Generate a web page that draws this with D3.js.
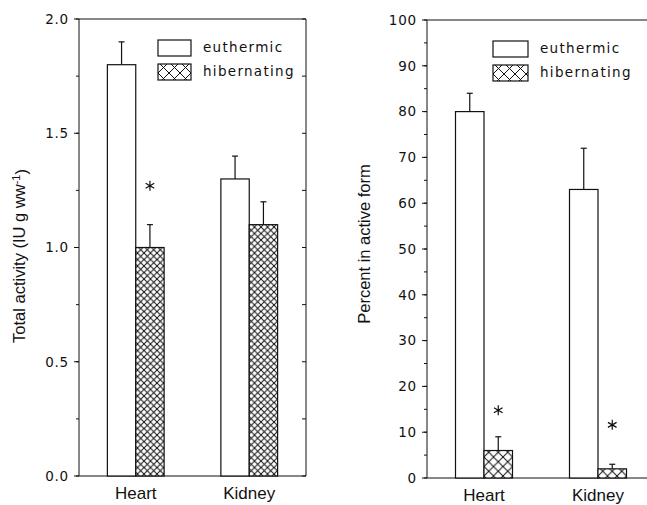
<!DOCTYPE html>
<html>
<head>
<meta charset="utf-8">
<script src="https://cdn.jsdelivr.net/npm/d3@7"></script>
<style>
  body { margin: 0; background: #fff; }
  svg { display: block; }
  .tick-label { font-family: "DejaVu Sans", sans-serif; font-size: 13.5px; letter-spacing: 0.8px; fill: #111; }
  .legend-text { font-family: "DejaVu Sans", sans-serif; font-size: 13.5px; letter-spacing: 1.3px; fill: #111; }
  .axis-title { font-family: "Liberation Sans", Arial, sans-serif; font-size: 16.5px; fill: #111; }
  .cat-label { font-family: "Liberation Sans", Arial, sans-serif; font-size: 17px; fill: #111; }
</style>
</head>
<body>
<div id="chart"></div>
<script>
// data
const categories = ["Heart", "Kidney"];
const series = ["euthermic", "hibernating"];

// left panel: total activity
const totalEuthermic = [1.8, 1.3];
const totalEuthermicErr = [0.1, 0.1];
const totalHibernating = [1.0, 1.1];
const totalHibernatingErr = [0.1, 0.1];
const totalStars = [1.27, null];     // asterisk above hibernating bar
const totalTicks = [0, 0.5, 1.0, 1.5, 2.0];

// right panel: percent in active form
const pctEuthermic = [80, 63];
const pctEuthermicErr = [4, 9];
const pctHibernating = [6, 2];
const pctHibernatingErr = [3, 1];
const pctStars = [14.8, 11.6];
const pctTicks = [0, 10, 20, 30, 40, 50, 60, 70, 80, 90, 100];

const svg = d3.select("#chart").append("svg")
  .attr("width", 647)
  .attr("height", 505);

const defs = svg.append("defs");
function hatch(id, size) {
  const p = defs.append("pattern")
    .attr("id", id)
    .attr("patternUnits", "userSpaceOnUse")
    .attr("width", size)
    .attr("height", size);
  p.append("rect").attr("width", size).attr("height", size).attr("fill", "#fff");
  p.append("path")
    .attr("d", `M0,0L${size},${size}M${size},0L0,${size}`)
    .attr("stroke", "#111")
    .attr("stroke-width", 1);
}
hatch("hatchL", 6.5);
hatch("hatchR", 9.5);
hatch("hatchLeg", 11);

function drawPanel(opt) {
  const g = svg.append("g").attr("transform", `translate(${opt.left},${opt.top})`);
  const w = opt.width, h = opt.height;

  const y = d3.scaleLinear().domain(opt.domain).range([h, 0]);
  const x0 = d3.scaleBand().domain(categories).range([0, w]).paddingInner(0.5).paddingOuter(0.25);
  const x1 = d3.scaleBand().domain(series).range([0, x0.bandwidth()]);

  // frame
  g.append("line").attr("x1", 0).attr("x2", 0).attr("y1", 0).attr("y2", h).attr("stroke", "#111");
  g.append("line").attr("x1", 0).attr("x2", w).attr("y1", 0).attr("y2", 0).attr("stroke", "#111");
  g.append("line").attr("x1", 0).attr("x2", w).attr("y1", h).attr("y2", h).attr("stroke", "#111");
  g.append("line").attr("x1", w).attr("x2", w).attr("y1", 0).attr("y2", h).attr("stroke", "#111");

  // y ticks, major + minor
  const minor = d3.range(opt.domain[0], opt.domain[1] + 1e-9, opt.minorStep);
  g.selectAll(".minorL").data(minor).enter().append("line")
    .attr("x1", -3).attr("x2", 0)
    .attr("y1", d => y(d)).attr("y2", d => y(d))
    .attr("stroke", "#111");
  g.selectAll(".minorR").data(minor).enter().append("line")
    .attr("x1", w - 4).attr("x2", w)
    .attr("y1", d => y(d)).attr("y2", d => y(d))
    .attr("stroke", "#111");
  g.selectAll(".major").data(opt.ticks).enter().append("line")
    .attr("x1", -5).attr("x2", 0)
    .attr("y1", d => y(d)).attr("y2", d => y(d))
    .attr("stroke", "#111");
  g.selectAll(".tick-label").data(opt.ticks).enter().append("text")
    .attr("class", "tick-label")
    .attr("x", -10)
    .attr("y", d => y(d))
    .attr("dy", "0.36em")
    .attr("text-anchor", "end")
    .text(opt.format);

  // bars
  const rows = [];
  categories.forEach((c, i) => {
    rows.push({cat: c, s: "euthermic", v: opt.eu[i], e: opt.euErr[i]});
    rows.push({cat: c, s: "hibernating", v: opt.hib[i], e: opt.hibErr[i]});
  });
  const bx = d => x0(d.cat) + x1(d.s);

  g.selectAll(".err").data(rows).enter().append("line")
    .attr("x1", d => bx(d) + x1.bandwidth() / 2)
    .attr("x2", d => bx(d) + x1.bandwidth() / 2)
    .attr("y1", d => y(d.v))
    .attr("y2", d => y(d.v + d.e))
    .attr("stroke", "#111").attr("stroke-width", 1.2);
  g.selectAll(".cap").data(rows).enter().append("line")
    .attr("x1", d => bx(d) + x1.bandwidth() / 2 - 3)
    .attr("x2", d => bx(d) + x1.bandwidth() / 2 + 3)
    .attr("y1", d => y(d.v + d.e))
    .attr("y2", d => y(d.v + d.e))
    .attr("stroke", "#111").attr("stroke-width", 1.2);

  g.selectAll(".bar").data(rows).enter().append("rect")
    .attr("x", bx)
    .attr("y", d => y(d.v))
    .attr("width", x1.bandwidth())
    .attr("height", d => h - y(d.v))
    .attr("fill", d => d.s === "euthermic" ? "#fff" : `url(#${opt.hatch})`)
    .attr("stroke", "#111")
    .attr("stroke-width", 1.2);

  // significance asterisks
  const star = d3.symbol().type(d3.symbolAsterisk).size(70);
  categories.forEach((c, i) => {
    if (opt.stars[i] == null) return;
    g.append("path")
      .attr("d", star())
      .attr("transform", `translate(${x0(c) + x1("hibernating") + x1.bandwidth() / 2},${y(opt.stars[i])})`)
      .attr("fill", "none")
      .attr("stroke", "#111")
      .attr("stroke-width", 1.2);
  });

  // category labels
  g.selectAll(".cat-label").data(categories).enter().append("text")
    .attr("class", "cat-label")
    .attr("x", d => x0(d) + x0.bandwidth() / 2)
    .attr("y", h + 23)
    .attr("text-anchor", "middle")
    .text(d => d);

  // legend
  const leg = g.append("g").attr("transform", `translate(${opt.legX},21)`);
  series.forEach((s, i) => {
    leg.append("rect")
      .attr("x", 0).attr("y", i * 24)
      .attr("width", opt.legW).attr("height", 16)
      .attr("fill", s === "euthermic" ? "#fff" : "url(#hatchLeg)")
      .attr("stroke", "#111").attr("stroke-width", 1.2);
    leg.append("text")
      .attr("class", "legend-text")
      .attr("x", opt.legW + 12)
      .attr("y", i * 24 + 12)
      .text(s);
  });

  // y title
  const t = svg.append("text")
    .attr("class", "axis-title")
    .attr("transform", `translate(${opt.titleX},${opt.titleY}) rotate(-90)`)
    .attr("text-anchor", "middle");
  opt.title(t);
}

drawPanel({
  left: 79, top: 19, width: 227, height: 457,
  domain: [0, 2], minorStep: 0.25, ticks: totalTicks,
  format: d3.format(".1f"),
  eu: totalEuthermic, euErr: totalEuthermicErr,
  hib: totalHibernating, hibErr: totalHibernatingErr,
  stars: totalStars, hatch: "hatchL",
  legX: 79, legW: 33,
  titleX: 25, titleY: 256,
  title: t => {
    t.append("tspan").text("Total activity (IU g ww");
    t.append("tspan").attr("dy", "-0.45em").style("font-size", "11px").text("-1");
    t.append("tspan").attr("dy", "0.45em").text(")");
  }
});

drawPanel({
  left: 427, top: 20, width: 228, height: 458,
  domain: [0, 100], minorStep: 5, ticks: pctTicks,
  format: d3.format("d"),
  eu: pctEuthermic, euErr: pctEuthermicErr,
  hib: pctHibernating, hibErr: pctHibernatingErr,
  stars: pctStars, hatch: "hatchR",
  legX: 66, legW: 35,
  titleX: 370, titleY: 244,
  title: t => t.text("Percent in active form")
});
</script>
</body>
</html>
